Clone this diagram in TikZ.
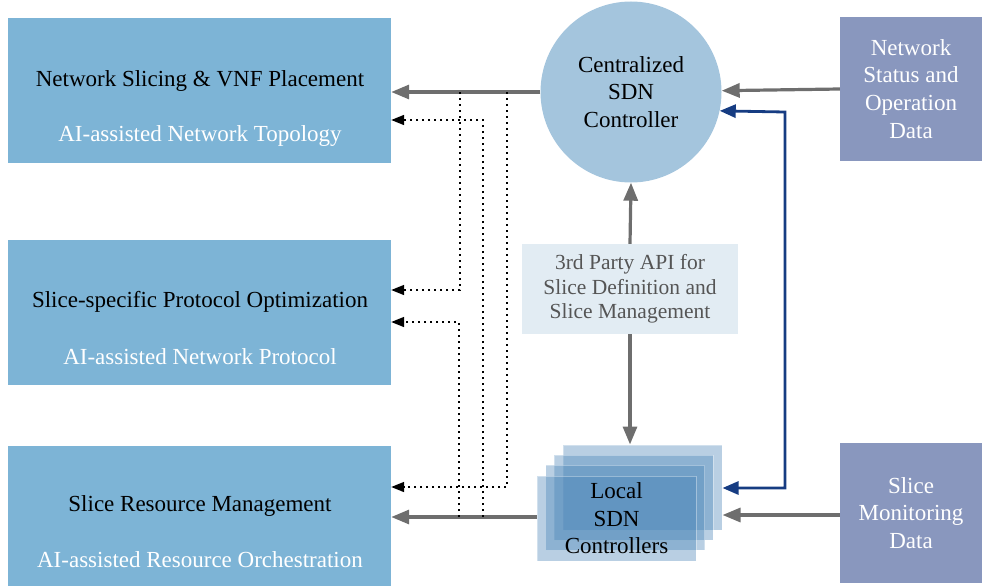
\documentclass[tikz,border=0pt]{standalone}
\usepackage{fontspec}
\setmainfont{Liberation Serif}
\usetikzlibrary{arrows.meta,calc}
\definecolor{leftblue}{RGB}{125,180,214}
\definecolor{circblue}{RGB}{164,197,221}
\definecolor{sidebox}{RGB}{137,151,190}
\definecolor{apibox}{RGB}{226,236,243}
\definecolor{apitext}{RGB}{85,85,85}
\definecolor{arrgray}{RGB}{110,110,110}
\definecolor{darkblue}{RGB}{22,60,130}
\definecolor{localblue}{RGB}{70,130,182}
\tikzset{
  leftbox/.style={draw=none,fill=leftblue,minimum width=383pt,minimum height=145pt,inner sep=0pt},
  sideboxst/.style={draw=none,fill=sidebox,minimum width=142pt,minimum height=144pt,inner sep=0pt,text=white,align=center,font=\fontsize{23}{27.8}\selectfont},
  blacktxt/.style={text=black,font=\fontsize{23}{27.5}\selectfont},
  whitetxt/.style={text=white,font=\fontsize{23}{27.5}\selectfont},
  stackrect/.style={fill=localblue,fill opacity=0.38,draw=white,draw opacity=0.35,line width=1pt,minimum width=159pt,minimum height=85pt,inner sep=0pt},
  grayarr/.style={draw=arrgray,line width=3.2pt,-{Triangle[length=18pt,width=14pt]}},
  bluearr/.style={draw=darkblue,line width=2.8pt,{Triangle[length=16pt,width=13pt]}-{Triangle[length=16pt,width=13pt]}},
  dotarr/.style={draw=black,line width=1.7pt,dash pattern=on 1.7pt off 4.3pt,-{Triangle[length=13pt,width=10pt]}},
}
\begin{document}
\begin{tikzpicture}[x=1pt,y=-1pt]
\useasboundingbox (0,0) rectangle (982,586);
% left boxes
\node[leftbox] (top) at (199.5,90.5) {};
\node[blacktxt] (toptxt1) at (200,81) {Network Slicing \& VNF Placement};
\node[whitetxt] (toptxt2) at (200,136) {AI-assisted Network Topology};
\node[leftbox] (mid) at (199.5,312.5) {};
\node[blacktxt] (midtxt1) at (200,302) {Slice-specific Protocol Optimization};
\node[whitetxt] (midtxt2) at (200,357) {AI-assisted Network Protocol};
\node[leftbox,minimum height=140pt] (bot) at (199.5,516) {};
\node[blacktxt] (bottxt1) at (200,506) {Slice Resource Management};
\node[whitetxt] (bottxt2) at (200,560) {AI-assisted Resource Orchestration};
% circle
\node[circle,fill=circblue,minimum size=181pt,inner sep=0pt,align=center,font=\fontsize{23}{27.5}\selectfont] (circ) at (631,92) {Centralized\\SDN\\Controller};
% right boxes
\node[sideboxst] (status) at (911,89) {Network\\Status and\\Operation\\Data};
\node[sideboxst,minimum height=140pt] (mon) at (911,513) {Slice\\Monitoring\\Data};
% API box
\node[fill=apibox,minimum width=216pt,minimum height=90pt,inner sep=0pt,align=center,text=apitext,font=\fontsize{21.5}{24.5}\selectfont] (api) at (630,289) {3rd Party API for\\Slice Definition and\\Slice Management};
% local stacked controllers
\node[stackrect] (localback) at (642.5,487.5) {};
\node[stackrect] (local2) at (633.8,497.5) {};
\node[stackrect] (local3) at (625.2,507.5) {};
\node[stackrect,align=center,text opacity=1,font=\fontsize{23}{27.5}\selectfont] (local) at (616.5,518.5) {Local\\SDN\\Controllers};
% solid arrows
\draw[grayarr] (circ.west) -- (circ.west -| top.east);
\draw[grayarr] (status.west) -- (circ);
\draw[grayarr] (api.north) -- (circ.south);
\draw[grayarr] (api.south) -- (api.south |- localback.north);
\draw[grayarr] (local.west |- 0,517) -- (bot.east |- 0,517);
\draw[grayarr] (mon.west |- 0,515) -- (localback.east |- 0,515);
\coordinate (b1) at (785,112);
\coordinate (b2) at (785,488);
\draw[bluearr,line join=miter] (circ.-12.8) -- (b1) -- (b2) -- (b2 -| localback.east);
% dotted connectors
\coordinate (d1) at (460,92);
\coordinate (d2) at (507,92);
\coordinate (d3) at (483,517);
\coordinate (d4) at (459,517);
\draw[dotarr] (d1) -- (460,290) -- (mid.east |- 0,290);
\draw[dotarr] (d2) -- (507,487) -- (bot.east |- 0,487);
\draw[dotarr] (d3) -- (483,120) -- (top.east |- 0,120);
\draw[dotarr] (d4) -- (459,322) -- (mid.east |- 0,322);
\end{tikzpicture}
\end{document}
